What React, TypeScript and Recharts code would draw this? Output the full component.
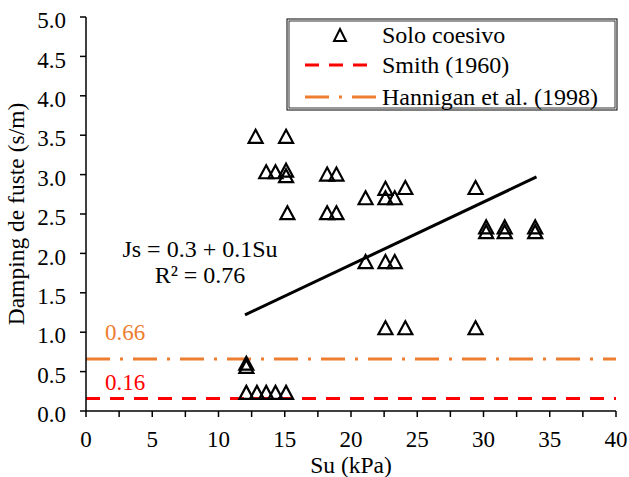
import { ScatterChart, Scatter, XAxis, YAxis, ReferenceLine, Label } from "recharts"

const soloCoesivo = [
  { su: 12.8, js: 3.48 }, { su: 15.1, js: 3.48 },
  { su: 13.6, js: 3.03 }, { su: 14.3, js: 3.03 }, { su: 15.1, js: 3.05 }, { su: 15.1, js: 2.98 },
  { su: 18.2, js: 3.0 }, { su: 18.9, js: 3.0 },
  { su: 15.2, js: 2.51 }, { su: 18.2, js: 2.51 }, { su: 18.9, js: 2.51 },
  { su: 21.1, js: 2.7 }, { su: 22.6, js: 2.82 }, { su: 22.6, js: 2.7 }, { su: 23.3, js: 2.7 },
  { su: 24.1, js: 2.83 }, { su: 29.4, js: 2.83 },
  { su: 30.2, js: 2.33 }, { su: 30.2, js: 2.27 }, { su: 31.6, js: 2.33 }, { su: 31.6, js: 2.27 },
  { su: 33.9, js: 2.33 }, { su: 33.9, js: 2.27 },
  { su: 21.1, js: 1.89 }, { su: 22.6, js: 1.89 }, { su: 23.3, js: 1.89 },
  { su: 22.6, js: 1.05 }, { su: 24.1, js: 1.05 }, { su: 29.4, js: 1.05 },
  { su: 12.1, js: 0.6 }, { su: 12.1, js: 0.56 },
  { su: 12.1, js: 0.23 }, { su: 12.9, js: 0.23 }, { su: 13.6, js: 0.23 }, { su: 14.3, js: 0.23 }, { su: 15.1, js: 0.23 },
]

const regression = [
  { su: 12.0, js: 1.22 },
  { su: 34.0, js: 2.97 },
]

const smith = 0.16
const hannigan = 0.66

const xTicks = [0, 2.5, 5, 7.5, 10, 12.5, 15, 17.5, 20, 22.5, 25, 27.5, 30, 32.5, 35, 37.5, 40]
const yTicks = [0, 0.5, 1, 1.5, 2, 2.5, 3, 3.5, 4, 4.5, 5]

const FONT = "Liberation Serif, Times New Roman, serif"

const Triangle = (props: any) => {
  const { cx, cy } = props
  if (cx == null || cy == null) return null
  return (
    <path
      d={`M${cx},${cy - 7} L${cx + 7},${cy + 6} L${cx - 7},${cy + 6} Z`}
      fill="none"
      stroke="#000"
      strokeWidth={2.2}
    />
  )
}

const Nothing = () => null

export default function App() {
  return (
    <div style={{ position: "absolute", left: 0, top: 0, width: 629, height: 477, background: "#fff" }}>
      <ScatterChart
        width={629}
        height={477}
        margin={{ top: 17, right: 13, bottom: 26, left: 36 }}
        style={{ fontFamily: FONT }}
      >
        <XAxis
          type="number"
          dataKey="su"
          domain={[0, 40]}
          ticks={xTicks}
          interval={0}
          tickFormatter={(v: number) => (v % 5 === 0 ? String(v) : "")}
          tick={{ fill: "#000", fontSize: 23, fontFamily: FONT, dy: 12 }}
          axisLine={{ stroke: "#000", strokeWidth: 1.5 }}
          tickLine={{ stroke: "#000", strokeWidth: 1.5 }}
          tickSize={6}
          height={40}
        >
          <Label value="Su (kPa)" position="bottom" offset={5} style={{ fill: "#000", fontSize: 23.5, fontFamily: FONT }} />
        </XAxis>
        <YAxis
          type="number"
          dataKey="js"
          domain={[0, 5]}
          ticks={yTicks}
          interval={0}
          tickFormatter={(v: number) => v.toFixed(1)}
          tick={{ fill: "#000", fontSize: 23, fontFamily: FONT, dx: -12, dy: 3 }}
          axisLine={{ stroke: "#000", strokeWidth: 1.5 }}
          tickLine={{ stroke: "#000", strokeWidth: 1.5 }}
          tickSize={6}
          width={50}
        >
          <Label
            value="Damping de fuste (s/m)"
            angle={-90}
            position="insideLeft"
            offset={-20}
            style={{ fill: "#000", fontSize: 23.5, fontFamily: FONT, textAnchor: "middle" }}
          />
        </YAxis>
        <ReferenceLine y={hannigan} stroke="#ED7D31" strokeWidth={3} strokeDasharray="24 10 3 10">
          <Label value="0.66" position="insideTopLeft" offset={0} dx={19} dy={-35} style={{ fill: "#ED7D31", fontSize: 23, fontFamily: FONT }} />
        </ReferenceLine>
        <ReferenceLine y={smith} stroke="#FF0000" strokeWidth={3} strokeDasharray="14 10">
          <Label value="0.16" position="insideTopLeft" offset={0} dx={19} dy={-25} style={{ fill: "#FF0000", fontSize: 23, fontFamily: FONT }} />
        </ReferenceLine>
        <Scatter
          data={regression}
          line={{ stroke: "#000", strokeWidth: 3 }}
          shape={Nothing}
          isAnimationActive={false}
        />
        <Scatter data={soloCoesivo} shape={Triangle} isAnimationActive={false} />
        <text x={200} y={257} textAnchor="middle" fontSize={24} fontFamily={FONT} fill="#000">
          Js = 0.3 + 0.1Su
        </text>
        <text x={200} y={283} textAnchor="middle" fontSize={24} fontFamily={FONT} fill="#000">
          R² = 0.76
        </text>
        <g>
          <rect x={287} y={19} width={330} height={91} fill="#fff" stroke="#000" strokeWidth={1} />
          <rect x={289} y={21} width={326} height={87} fill="none" stroke="#000" strokeWidth={0.8} />
          <path d="M340,29 L346,41 L334,41 Z" fill="none" stroke="#000" strokeWidth={2} />
          <text x={382} y={43} fontSize={24} fontFamily={FONT} fill="#000">Solo coesivo</text>
          <line x1={305} y1={65} x2={376} y2={65} stroke="#FF0000" strokeWidth={3} strokeDasharray="14 10" />
          <text x={382} y={73} fontSize={24} fontFamily={FONT} fill="#000">Smith (1960)</text>
          <line x1={305} y1={97} x2={376} y2={97} stroke="#ED7D31" strokeWidth={3} strokeDasharray="24 10 3 10" />
          <text x={382} y={105} fontSize={24} fontFamily={FONT} fill="#000">Hannigan et al. (1998)</text>
        </g>
      </ScatterChart>
    </div>
  )
}
